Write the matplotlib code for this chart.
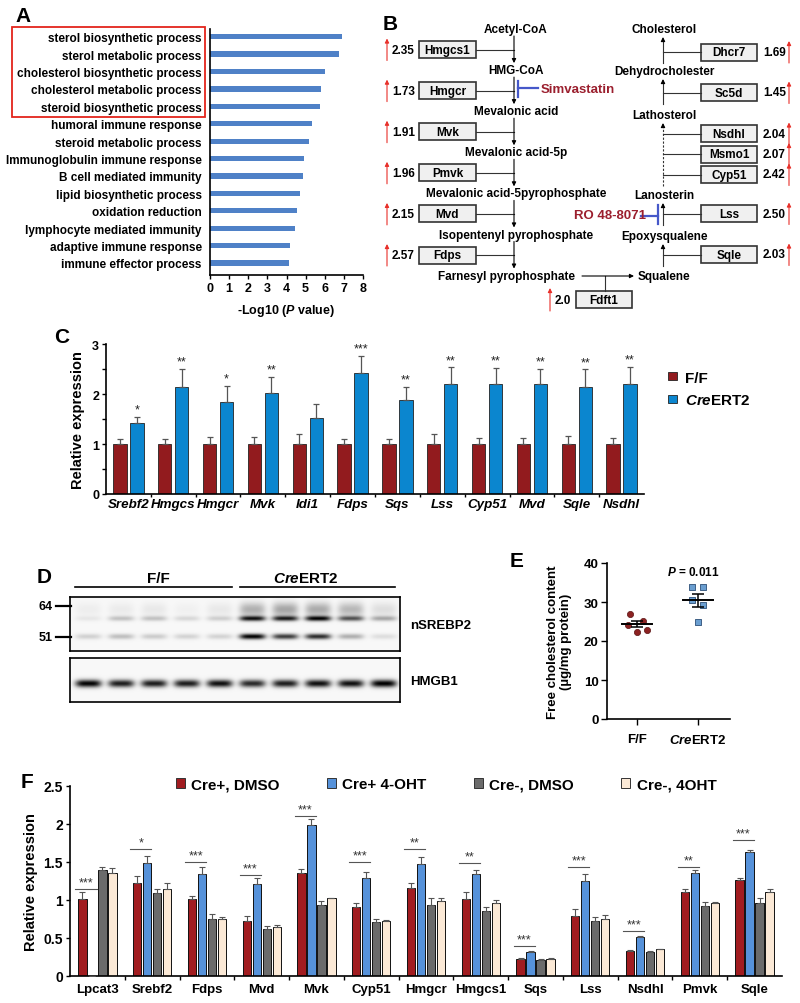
import numpy as np
import matplotlib
matplotlib.use('Agg')
import matplotlib.pyplot as plt
from matplotlib.patches import Rectangle, Patch

plt.rcParams['font.family'] = ['Liberation Sans', 'DejaVu Sans']
plt.rcParams['font.weight'] = 'bold'
plt.rcParams['axes.labelweight'] = 'bold'
plt.rcParams['mathtext.fontset'] = 'custom'
plt.rcParams['mathtext.it'] = 'Liberation Sans:italic:bold'
plt.rcParams['mathtext.rm'] = 'Liberation Sans:bold'
plt.rcParams['mathtext.bf'] = 'Liberation Sans:bold'
plt.rcParams['axes.linewidth'] = 1.2

# ---- data -------------------------------------------------------------
# A: GO terms
go_terms = ['sterol biosynthetic process', 'sterol metabolic process',
            'cholesterol biosynthetic process', 'cholesterol metabolic process',
            'steroid biosynthetic process', 'humoral immune response',
            'steroid metabolic process', 'Immunoglobulin immune response',
            'B cell mediated immunity', 'lipid biosynthetic process',
            'oxidation reduction', 'lymphocyte mediated immunity',
            'adaptive immune response', 'immune effector process']
go_logp = [6.9, 6.73, 5.99, 5.82, 5.77, 5.33, 5.2, 4.94, 4.85, 4.72, 4.54, 4.45, 4.19, 4.12]

# B: pathway
left_metabolites = ['Acetyl-CoA', 'HMG-CoA', 'Mevalonic acid', 'Mevalonic acid-5p',
                    'Mevalonic acid-5pyrophosphate', 'Isopentenyl pyrophosphate',
                    'Farnesyl pyrophosphate']
left_genes = ['Hmgcs1', 'Hmgcr', 'Mvk', 'Pmvk', 'Mvd', 'Fdps']
left_fold = ['2.35', '1.73', '1.91', '1.96', '2.15', '2.57']
right_metabolites = ['Cholesterol', 'Dehydrocholester', 'Lathosterol', 'Lanosterin', 'Epoxysqualene']
right_genes = ['Dhcr7', 'Sc5d', 'Nsdhl', 'Msmo1', 'Cyp51', 'Lss', 'Sqle']
right_fold = ['1.69', '1.45', '2.04', '2.07', '2.42', '2.50', '2.03']
right_groups = [[0], [1], [2, 3, 4], [5], [6]]
fdft1_fold = '2.0'

# C: qPCR liver
c_genes = ['Srebf2', 'Hmgcs', 'Hmgcr', 'Mvk', 'Idi1', 'Fdps', 'Sqs', 'Lss',
           'Cyp51', 'Mvd', 'Sqle', 'Nsdhl']
c_ff = [1, 1, 1, 1, 1, 1, 1, 1, 1, 1, 1, 1]
c_ff_err = [0.1, 0.11, 0.15, 0.15, 0.2, 0.1, 0.1, 0.21, 0.13, 0.12, 0.16, 0.12]
c_cre = [1.43, 2.15, 1.85, 2.03, 1.53, 2.42, 1.89, 2.21, 2.2, 2.21, 2.15, 2.21]
c_cre_err = [0.12, 0.36, 0.32, 0.32, 0.27, 0.35, 0.26, 0.33, 0.33, 0.3, 0.35, 0.34]
c_sig = ['*', '**', '*', '**', '', '***', '**', '**', '**', '**', '**', '**']

# D: western blot band intensities (0-1)
blot_upper = [0.06, 0.2, 0.2, 0.12, 0.15, 0.85, 0.8, 0.9, 0.6, 0.3]
blot_lower = [0.15, 0.22, 0.17, 0.14, 0.14, 0.95, 0.72, 0.78, 0.28, 0.1]
blot_haze = [0.04, 0.05, 0.06, 0.03, 0.06, 0.28, 0.32, 0.3, 0.25, 0.1]
hmgb1 = [0.95, 0.85, 0.85, 0.85, 0.9, 0.8, 0.85, 0.9, 0.9, 0.97]

# E: free cholesterol
e_ff = [27.0, 24.1, 25.1, 22.4, 22.9]
e_cre = [33.8, 33.8, 30.5, 29.2, 24.9]

# F: cell qPCR
f_genes = ['Lpcat3', 'Srebf2', 'Fdps', 'Mvd', 'Mvk', 'Cyp51', 'Hmgcr', 'Hmgcs1',
           'Sqs', 'Lss', 'Nsdhl', 'Pmvk', 'Sqle']
f_series = ['Cre+, DMSO', 'Cre+ 4-OHT', 'Cre-, DMSO', 'Cre-, 4OHT']
f_dmso_pos = [1.01, 1.23, 1.01, 0.73, 1.35, 0.91, 1.16, 1.01, 0.23, 0.79, 0.33, 1.11, 1.26]
f_dmso_pos_err = [0.09, 0.09, 0.04, 0.06, 0.06, 0.05, 0.06, 0.09, 0.01, 0.09, 0.01, 0.04, 0.03]
f_oht_pos = [0, 1.49, 1.34, 1.21, 1.99, 1.29, 1.47, 1.34, 0.32, 1.25, 0.51, 1.35, 1.63]
f_oht_pos_err = [0, 0.09, 0.09, 0.08, 0.07, 0.08, 0.09, 0.06, 0.01, 0.09, 0.02, 0.05, 0.03]
f_dmso_neg = [1.40, 1.09, 0.75, 0.62, 0.94, 0.71, 0.94, 0.85, 0.21, 0.72, 0.32, 0.92, 0.96]
f_dmso_neg_err = [0.04, 0.06, 0.06, 0.04, 0.05, 0.04, 0.08, 0.06, 0.01, 0.06, 0.01, 0.06, 0.07]
f_oht_neg = [1.36, 1.15, 0.75, 0.65, 1.02, 0.72, 0.99, 0.96, 0.23, 0.75, 0.35, 0.96, 1.1]
f_oht_neg_err = [0.06, 0.07, 0.02, 0.02, 0.01, 0.02, 0.04, 0.04, 0.01, 0.05, 0.01, 0.02, 0.04]
f_sig = ['***', '*', '***', '***', '***', '***', '**', '**', '***', '***', '***', '**', '***']
f_sig_y = [1.15, 1.67, 1.5, 1.33, 2.11, 1.5, 1.67, 1.49, 0.40, 1.44, 0.59, 1.44, 1.79]

# ---- figure -----------------------------------------------------------
W, H = 800, 1004
fig = plt.figure(figsize=(W / 100, H / 100), dpi=100)


def px_axes(x0, y0, x1, y1):
    return fig.add_axes([x0 / W, 1 - y1 / H, (x1 - x0) / W, (y1 - y0) / H])


# A
ax_a = px_axes(210, 30, 363, 276)
ya = np.arange(len(go_terms))
ax_a.barh(ya, go_logp, height=0.3, color='#4f81c7')
ax_a.set_ylim(len(go_terms) - 0.31, -0.44)
ax_a.set_xlim(0, 8)
ax_a.set_yticks(ya, go_terms, fontsize=8.5)
ax_a.tick_params(axis='y', length=0, pad=6)
ax_a.set_xticks(range(9))
ax_a.tick_params(axis='x', length=3, width=1, labelsize=9, pad=2)
ax_a.set_xlabel('-Log10 ($P$ value)', fontsize=9, labelpad=6)
for s in ['top', 'right']:
    ax_a.spines[s].set_visible(False)

# C
ax_c = px_axes(106, 345, 644, 495)
xc = np.arange(len(c_genes))
c_cols = ['#921b1e', '#0b86cf']
ax_c.bar(xc - 0.19, c_ff, 0.3, color=c_cols[0], edgecolor='#222', lw=0.6, label='F/F')
ax_c.bar(xc + 0.19, c_cre, 0.3, color=c_cols[1], edgecolor='#222', lw=0.6, label='$Cre$ERT2')
ax_c.errorbar(xc - 0.19, c_ff, yerr=[np.zeros(len(xc)), c_ff_err], fmt='none',
              ecolor='#555', elinewidth=0.9, capsize=2.5, capthick=0.9, zorder=3)
ax_c.errorbar(xc + 0.19, c_cre, yerr=[np.zeros(len(xc)), c_cre_err], fmt='none',
              ecolor='#555', elinewidth=0.9, capsize=2.5, capthick=0.9, zorder=3)
for i, s in enumerate(c_sig):
    if s:
        ax_c.text(xc[i] + 0.19, c_cre[i] + c_cre_err[i] + 0.02, s, ha='center', va='bottom',
                  fontsize=9, fontweight='normal', color='#222')
ax_c.set_xlim(-0.5, len(c_genes) - 0.5)
ax_c.set_ylim(0, 3)
ax_c.set_yticks(np.arange(0, 3.01, 0.5), ['0', '', '1', '', '2', '', '3'])
ax_c.tick_params(axis='y', length=3, width=1, labelsize=9, pad=2)
ax_c.set_xticks(xc, c_genes, fontsize=9.6, fontstyle='italic')
ax_c.set_xticks(np.arange(0.5, len(c_genes) - 1, 1), minor=True)
ax_c.tick_params(axis='x', which='major', length=0, pad=3)
ax_c.tick_params(axis='x', which='minor', length=2, width=1)
ax_c.set_ylabel('Relative expression', fontsize=10.5)
ax_c.yaxis.set_label_coords(-0.039, 0.5)
for s in ['top', 'right']:
    ax_c.spines[s].set_visible(False)
ax_c.legend(loc='center left', bbox_to_anchor=(1.03, 0.70), frameon=False, fontsize=11,
            handlelength=0.6, handleheight=0.45, handletextpad=0.5, labelspacing=0.55,
            borderpad=0)

# D blot
def blot_image(rows, cols, bands, lane_w=13.0):
    img = np.full((rows, cols), 0.03)
    xx = np.arange(cols)[None, :]
    yy = np.arange(rows)[:, None]
    centers = 18 + 32.8 * np.arange(10)
    for row, sig, vals in bands:
        for c, v in zip(centers, vals):
            img += v * np.exp(-((xx - c) / lane_w) ** 4) * np.exp(-((yy - row) / sig) ** 2)
    return np.clip(img, 0, 1)


ax_d1 = px_axes(70, 598, 400, 652)
ax_d1.imshow(blot_image(54, 330, [(21, 2.6, blot_upper), (39, 2.8, blot_lower),
                                  (12, 7.0, blot_haze)]),
             cmap='gray_r', vmin=0, vmax=1, aspect='auto', interpolation='bilinear')
ax_d2 = px_axes(70, 659, 400, 703)
ax_d2.imshow(blot_image(44, 330, [(25, 3.8, hmgb1)]), cmap='gray_r', vmin=0, vmax=1,
             aspect='auto', interpolation='bilinear')
for ax in (ax_d1, ax_d2):
    ax.set_xticks([])
    ax.set_yticks([])

# E
ax_e = px_axes(607, 564, 730, 720)
jit_ff = [-0.11, -0.15, 0.1, 0.0, 0.16]
jit_cre = [-0.1, 0.08, -0.1, 0.08, 0.0]
ax_e.scatter(np.array(jit_ff), e_ff, s=20, marker='o', color='#8c2222', edgecolor='#5a1414',
             lw=0.5, zorder=3)
ax_e.scatter(1 + np.array(jit_cre), e_cre, s=18, marker='s', color='#6a9ed0', edgecolor='#2c4f77',
             lw=0.6, zorder=3)
for xpos, vals in ((0, e_ff), (1, e_cre)):
    m = np.mean(vals)
    se = np.std(vals, ddof=1) / np.sqrt(len(vals))
    ax_e.plot([xpos - 0.24, xpos + 0.24], [m, m], color='k', lw=1.4, zorder=4)
    ax_e.errorbar([xpos], [m], yerr=[se], fmt='none', ecolor='k', elinewidth=1.1,
                  capsize=4, capthick=1.1, zorder=4)
ax_e.set_xlim(-0.49, 1.52)
ax_e.set_ylim(0, 40)
ax_e.set_yticks([0, 10, 20, 30, 40])
ax_e.set_xticks([0, 1], ['F/F', '$Cre$ERT2'])
ax_e.tick_params(axis='y', length=4, width=1, labelsize=9.5, pad=2)
ax_e.tick_params(axis='x', length=4, width=1, labelsize=9.5, pad=6)
ax_e.set_ylabel('Free cholesterol content\n(µg/mg protein)', fontsize=9.5, linespacing=1.05)
ax_e.yaxis.set_label_coords(-0.285, 0.5)
ax_e.text(0.92, 39.5, '$P$ = 0.011', ha='center', va='top', fontsize=8.5)
for s in ['top', 'right']:
    ax_e.spines[s].set_visible(False)

# F
ax_f = px_axes(70, 787, 782, 977)
xf = np.arange(len(f_genes))
f_vals = [f_dmso_pos, f_oht_pos, f_dmso_neg, f_oht_neg]
f_errs = [f_dmso_pos_err, f_oht_pos_err, f_dmso_neg_err, f_oht_neg_err]
f_cols = ['#a11c20', '#5692da', '#6b6b6b', '#fbe9d6']
step, bw = 0.1826, 0.152
handles = []
for k in range(4):
    xs = xf + (k - 1.5) * step
    ax_f.bar(xs, f_vals[k], bw, color=f_cols[k], edgecolor='#111', lw=0.7, zorder=2)
    ax_f.errorbar(xs, f_vals[k], yerr=[np.zeros(len(xs)), f_errs[k]], fmt='none',
                  ecolor='#555', elinewidth=0.8, capsize=2, capthick=0.8, zorder=3)
    handles.append(Patch(facecolor=f_cols[k], edgecolor='#333', lw=0.7, label=f_series[k]))
for i, s in enumerate(f_sig):
    x0 = xf[i] - 1.5 * step - bw / 2 - 0.05
    x1 = xf[i] - 0.5 * step + bw / 2
    ax_f.plot([x0, x1], [f_sig_y[i], f_sig_y[i]], color='#555', lw=0.8)
    ax_f.text((x0 + x1) / 2, f_sig_y[i] + 0.005, s, ha='center', va='bottom',
              fontsize=9, fontweight='normal', color='#333')
ax_f.set_xlim(-0.5, len(f_genes) - 0.5)
ax_f.set_ylim(0, 2.5)
ax_f.set_yticks([0, 0.5, 1, 1.5, 2, 2.5], ['0', '0.5', '1', '1.5', '2', '2.5'])
ax_f.tick_params(axis='y', length=3, width=1, labelsize=10, pad=2)
ax_f.set_xticks(xf, f_genes, fontsize=9.5)
ax_f.set_xticks(np.arange(0.5, len(f_genes) - 1, 1), minor=True)
ax_f.tick_params(axis='x', which='major', length=0, pad=5)
ax_f.tick_params(axis='x', which='minor', length=3, width=1)
ax_f.set_ylabel('Relative expression', fontsize=10.5)
ax_f.yaxis.set_label_coords(-0.045, 0.5)
for s in ['top', 'right']:
    ax_f.spines[s].set_visible(False)
ax_f.legend(handles=handles, ncol=4, loc='center left', bbox_to_anchor=(0.138, 1.01),
            frameon=False, fontsize=11, handlelength=0.6, handleheight=0.6,
            handletextpad=0.4, columnspacing=3.1, borderpad=0)

# ---- overlay: panel letters, pathway diagram, blot labels -------------
ov = fig.add_axes([0, 0, 1, 1])
ov.set_xlim(0, W)
ov.set_ylim(H, 0)
ov.axis('off')
ov.patch.set_alpha(0)

for letter, (lx, ly) in zip('ABCDEF', [(23, 16), (390, 24), (62, 338), (44, 578),
                                      (517, 562), (27, 783)]):
    ov.text(lx, ly, letter, fontsize=15, ha='center', va='center')

ov.add_patch(Rectangle((12, 28), 193, 90, fill=False, edgecolor='#e3241b', lw=1.3))

arrow_k = dict(arrowstyle='-|>', mutation_scale=6, lw=0.8, color='k', shrinkA=0, shrinkB=0)
arrow_r = dict(arrowstyle='-|>', mutation_scale=6, lw=0.8, color='#e8302a', shrinkA=0, shrinkB=0)
dred = '#9b1f2e'
iblue = '#4658c9'
fs_b = 8.5


def gene_box(x0, yc, name, w=57):
    ov.add_patch(Rectangle((x0, yc - 8.5), w, 17, facecolor='#f0f0f0', edgecolor='#333', lw=1.2))
    ov.text(x0 + w / 2, yc + 0.5, name, ha='center', va='center', fontsize=fs_b)


# left column
met_y = [30 + 41.1 * i for i in range(len(left_metabolites))]
for i, m in enumerate(left_metabolites[:-1]):
    ov.text(516, met_y[i], m, ha='center', va='center', fontsize=fs_b)
ov.text(575, met_y[-1], left_metabolites[-1], ha='right', va='center', fontsize=fs_b)
for i, g in enumerate(left_genes):
    yc = met_y[i] + 20.5
    ov.annotate('', xy=(514, met_y[i + 1] - 7), xytext=(514, met_y[i] + 7), arrowprops=arrow_k)
    gene_box(419, yc, g)
    ov.plot([476, 514], [yc, yc], color='#333', lw=0.8)
    ov.annotate('', xy=(387, yc - 11), xytext=(387, yc + 11), arrowprops=arrow_r)
    ov.text(392, yc, left_fold[i], ha='left', va='center', fontsize=fs_b)

# Simvastatin inhibition
ov.plot([518, 518], [82, 98], color=iblue, lw=1.6)
ov.plot([518, 538], [89, 89], color=iblue, lw=1.6)
ov.text(541, 90, 'Simvastatin', color=dred, ha='left', va='center', fontsize=9.5)

# right column
right_box_y = [53, 93.5, 134.5, 155, 175.5, 214.5, 255.5]
right_met_y = [30, 72, 116, 196, 237]
for gi, grp in enumerate(right_groups):
    ov.text(664, right_met_y[gi], right_metabolites[gi], ha='center', va='center', fontsize=fs_b)
    bottom = right_box_y[grp[-1]] + 11
    top = right_met_y[gi] + 8
    ls = (0, (2, 1.5)) if len(grp) > 1 else '-'
    ov.plot([663, 663], [bottom, top + 3], color='#333', lw=0.8, ls=ls)
    ov.annotate('', xy=(663, top), xytext=(663, top + 4), arrowprops=arrow_k)
    for j in grp:
        yc = right_box_y[j]
        ov.plot([663, 701], [yc, yc], color='#333', lw=0.8)
        gene_box(701, yc, right_genes[j], w=56)
        ov.text(763, yc, right_fold[j], ha='left', va='center', fontsize=fs_b)
        ov.annotate('', xy=(789, yc - 11), xytext=(789, yc + 11), arrowprops=arrow_r)

# RO 48-8071 inhibition
ov.text(646, 216, 'RO 48-8071', color=dred, ha='right', va='center', fontsize=9.5)
ov.plot([641, 658], [216.5, 216.5], color=iblue, lw=1.6)
ov.plot([658, 658], [206, 225], color=iblue, lw=1.6)

# Farnesyl -> Squalene
ov.annotate('', xy=(634, 277), xytext=(582, 277), arrowprops=arrow_k)
ov.text(638, 277, 'Squalene', ha='left', va='center', fontsize=fs_b)
ov.plot([605, 605], [277, 292], color='#333', lw=0.8)
gene_box(576, 300.5, 'Fdft1', w=56)
ov.annotate('', xy=(550, 289), xytext=(550, 312), arrowprops=arrow_r)
ov.text(555, 301, fdft1_fold, ha='left', va='center', fontsize=fs_b)

# D labels
ov.text(158, 579, 'F/F', ha='center', va='center', fontsize=11)
ov.text(306, 579, '$Cre$ERT2', ha='center', va='center', fontsize=11)
ov.plot([75, 232], [588, 588], color='k', lw=1.2)
ov.plot([240, 395], [588, 588], color='k', lw=1.2)
for lab, yy in (('64', 607), ('51', 638)):
    ov.text(53, yy, lab, ha='right', va='center', fontsize=9)
    ov.plot([56, 71], [yy, yy], color='k', lw=1.6)
ov.text(410, 626, 'nSREBP2', ha='left', va='center', fontsize=9.5)
ov.text(410, 682, 'HMGB1', ha='left', va='center', fontsize=9.5)

fig.savefig('out.png', dpi=100)
